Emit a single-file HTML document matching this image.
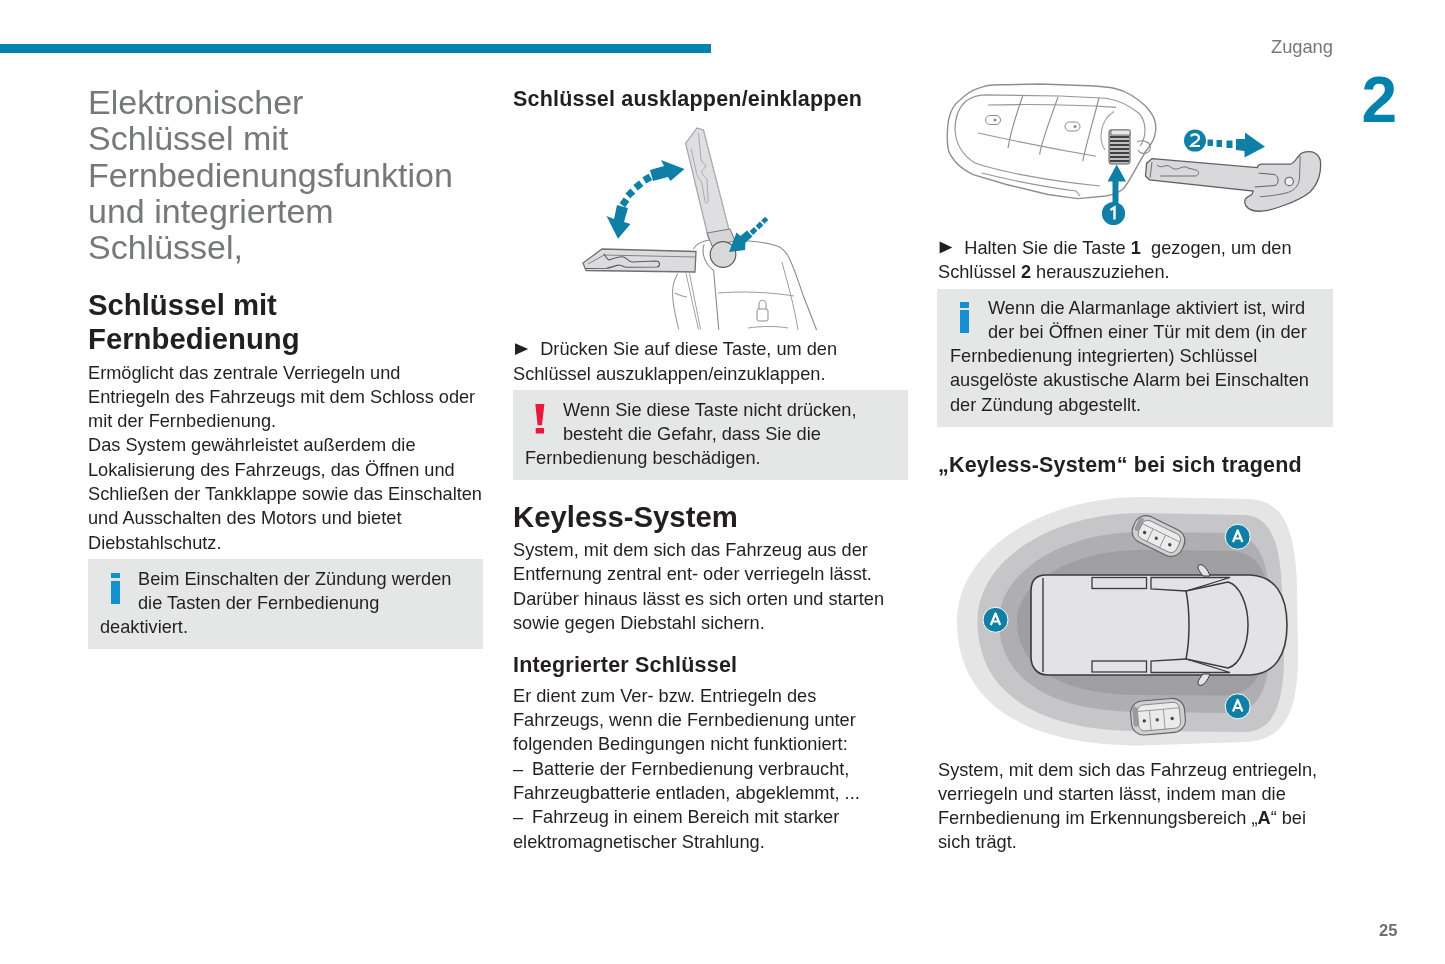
<!DOCTYPE html>
<html><head><meta charset="utf-8">
<style>
html,body{margin:0;padding:0;background:#fff;}
body{width:1445px;height:964px;position:relative;overflow:hidden;font-family:"Liberation Sans",sans-serif;color:#231f20;}
.a{position:absolute;white-space:nowrap;}
.bar{position:absolute;left:0;top:44px;width:711px;height:9px;background:#0282ad;}
.hdr{position:absolute;left:1271px;top:36px;font-size:18.4px;letter-spacing:-0.1px;color:#76777a;}
.chap{position:absolute;left:1361.6px;top:67.7px;font-size:64px;line-height:64px;font-weight:bold;color:#0282ad;}
.pg{position:absolute;left:1379px;top:921px;font-size:16.5px;font-weight:bold;color:#6d6e70;}
.title{position:absolute;left:88px;top:83.7px;font-size:34px;line-height:36.4px;color:#77787b;}
.h2{font-size:29.3px;font-weight:bold;line-height:34px;}
.h3{font-size:21.5px;letter-spacing:0.2px;font-weight:bold;line-height:24px;}
.body{font-size:18.2px;line-height:24.3px;}
.box{position:absolute;background:#e5e7e6;}
.info{position:absolute;background:#168ed2;width:9px;}
</style></head><body><div id="pg" style="position:absolute;left:0;top:0;width:1445px;height:964px;will-change:transform;">
<div class="bar"></div>
<div class="hdr">Zugang</div>
<div class="chap">2</div>
<div class="pg">25</div>

<div class="title a">Elektronischer<br>Schlüssel mit<br>Fernbedienungsfunktion<br>und integriertem<br>Schlüssel,</div>

<div class="a h2" style="left:88px;top:287.7px;">Schlüssel mit<br>Fernbedienung</div>
<div class="a body" style="left:88px;top:360.6px;">Ermöglicht das zentrale Verriegeln und<br>Entriegeln des Fahrzeugs mit dem Schloss oder<br>mit der Fernbedienung.<br>Das System gewährleistet außerdem die<br>Lokalisierung des Fahrzeugs, das Öffnen und<br>Schließen der Tankklappe sowie das Einschalten<br>und Ausschalten des Motors und bietet<br>Diebstahlschutz.</div>
<div class="box" style="left:88px;top:559.2px;width:395px;height:90.2px;"></div>
<div class="info" style="left:111px;top:573px;height:5px;"></div>
<div class="info" style="left:111px;top:581px;height:22.7px;"></div>
<div class="a body" style="left:138px;top:566.7px;">Beim Einschalten der Zündung werden<br>die Tasten der Fernbedienung</div>
<div class="a body" style="left:100px;top:615.4px;">deaktiviert.</div>

<!-- column 2 -->
<div class="a h3" style="left:513px;top:86.8px;">Schlüssel ausklappen/einklappen</div>
<div class="a body" style="left:540.2px;top:337.3px;">Drücken Sie auf diese Taste, um den</div><div class="a body" style="left:513px;top:361.6px;">Schlüssel auszuklappen/einzuklappen.</div>
<div class="box" style="left:513px;top:390px;width:395px;height:90px;"></div>

<div class="a body" style="left:563px;top:397.6px;">Wenn Sie diese Taste nicht drücken,<br>besteht die Gefahr, dass Sie die</div>
<div class="a body" style="left:525px;top:445.7px;">Fernbedienung beschädigen.</div>
<div class="a h2" style="left:513px;top:500.2px;">Keyless-System</div>
<div class="a body" style="left:513px;top:538.2px;">System, mit dem sich das Fahrzeug aus der<br>Entfernung zentral ent- oder verriegeln lässt.<br>Darüber hinaus lässt es sich orten und starten<br>sowie gegen Diebstahl sichern.</div>
<div class="a h3" style="left:513px;top:652.9px;">Integrierter Schlüssel</div>
<div class="a body" style="left:513px;top:683.9px;">Er dient zum Ver- bzw. Entriegeln des<br>Fahrzeugs, wenn die Fernbedienung unter<br>folgenden Bedingungen nicht funktioniert:<br>–<span style="display:inline-block;width:8.8px"></span>Batterie der Fernbedienung verbraucht,<br>Fahrzeugbatterie entladen, abgeklemmt, ...<br>–<span style="display:inline-block;width:8.8px"></span>Fahrzeug in einem Bereich mit starker<br>elektromagnetischer Strahlung.</div>

<!-- column 3 -->
<div class="a body" style="left:964.3px;top:235.7px;">Halten Sie die Taste <b>1</b>&nbsp; gezogen, um den</div><div class="a body" style="left:938px;top:260.0px;">Schlüssel <b>2</b> herauszuziehen.</div>
<div class="box" style="left:937px;top:289px;width:396px;height:138px;"></div>
<div class="info" style="left:960px;top:302px;height:6px;"></div>
<div class="info" style="left:960px;top:310px;height:23px;"></div>
<div class="a body" style="left:988px;top:295.9px;">Wenn die Alarmanlage aktiviert ist, wird<br>der bei Öffnen einer Tür mit dem (in der</div>
<div class="a body" style="left:950px;top:344.1px;">Fernbedienung integrierten) Schlüssel<br>ausgelöste akustische Alarm bei Einschalten<br>der Zündung abgestellt.</div>
<div class="a h3" style="left:938px;top:452.6px;">„Keyless-System“ bei sich tragend</div>
<div class="a body" style="left:938px;top:757.6px;">System, mit dem sich das Fahrzeug entriegeln,<br>verriegeln und starten lässt, indem man die<br>Fernbedienung im Erkennungsbereich „<b>A</b>“ bei<br>sich trägt.</div>


<svg class="ill" style="position:absolute;left:0;top:0;" width="1445" height="964" viewBox="0 0 1445 964">
<!-- bullets -->
<path d="M515,343.3 L528.2,349.1 L515,354.9 Z" fill="#231f20"/>
<path d="M939.6,241.6 L952.4,247.6 L939.6,253.6 Z" fill="#231f20"/>
<path d="M535.3,403.9 L544.4,403.9 L542,425.3 L537.6,425.3 Z M535.7,427.9 H544.1 V433.5 H535.7 Z" fill="#e8193c"/>
<!-- ===== flip key ===== -->
<g id="flip">
<!-- fob back body -->
<path d="M677.7,273.4 C674,280 672.5,287 672.5,293 C672.5,305 676,318 678.7,329.4 M674.6,293.1 C679,295 683,296.5 687,297.2" fill="none" stroke="#9a9b9d" stroke-width="1.1"/>
<path d="M686,273.4 L698.4,329.4 M689.5,273.4 L700.5,329.4" fill="none" stroke="#a0a1a3" stroke-width="1"/>
<path d="M693.3,249 C696,244 702,241 709.4,240 L748.8,241 C762,242 772,244 779,246.7 C783,249 786,252 788,256 C792,263 798,280 803,295 L816.6,330 M718.8,330 L713.6,270.5 C709,267 705,262 703.5,255 C702.5,250 703,247 704.2,244.6" fill="none" stroke="#8a8b8d" stroke-width="1.1"/>
<path d="M782,262 C788,285 794,305 798,330" fill="none" stroke="#9a9b9d" stroke-width="1"/>
<path d="M718,293 C740,291 770,292 794,296" fill="none" stroke="#9a9b9d" stroke-width="1"/>
<path d="M748,328 C760,326 778,326 788,328" fill="none" stroke="#9a9b9d" stroke-width="1"/>
<!-- lock icon -->
<rect x="757" y="309" width="11" height="12" rx="2" fill="none" stroke="#8a8b8d" stroke-width="1"/>
<path d="M759,309 V304 C759,299 766,299 766,304 V309" fill="none" stroke="#8a8b8d" stroke-width="1"/>
<!-- vertical blade -->
<path d="M685.6,143.3 L697,128 L703.5,130 L729.5,231.5 L708.5,238.5 Z" fill="#dfdfe1" stroke="#a3a4a6" stroke-width="1.2"/>
<path d="M698.5,133 L701,160 C702,163 706,164 705.6,166 C705,169 701,170 701.6,172.4 C702,176 707,177 707,180 L708.2,201.5 C708,204 705,204 705,201 L701.6,182 C699,178 696,175 696.3,172 L691,148.6" fill="none" stroke="#a9aaac" stroke-width="1"/>
<path d="M703.5,131 L729.5,231.5" fill="none" stroke="#b5b6b8" stroke-width="0.8"/>
<path d="M707,233 L730,229 L735,241 L712,246 Z" fill="#d6d6d8" stroke="#77787a" stroke-width="1"/>
<!-- horizontal blade -->
<path d="M583,263 L602,249 L696,251.5 L695,272 L586,270.5 Z" fill="#dcdcde" stroke="#6f7072" stroke-width="1.3"/>
<path d="M588,264 L604,255 L696,257" fill="none" stroke="#7a7b7d" stroke-width="0.9"/>
<path d="M604,253.7 C606,257 607,260 609.2,259.9 C614,259 618,256 622.7,256.8 C627,257.5 629,262 632,262 L655.9,261 C660,261 661,266 657,267 L626.9,267.2 C623,267 621,264.5 618.6,265.1 C614,266 610,268 606.1,268.2 L586,268.5" fill="none" stroke="#5a5b5d" stroke-width="1.1"/>
<!-- pivot -->
<circle cx="723" cy="254.5" r="12.8" fill="#d8d8da" stroke="#5b5c5e" stroke-width="1.2"/>
<!-- arrows -->
<g fill="#0f7fa5">
<path d="M661,160 L684.5,169 L670.5,181 L668,177 L653,181 L650,170 L664,166 Z"/>
<path d="M606.5,216 L618,238.7 L630.5,224 L624,222 L628,208 L617,205 L614,219 Z"/>
<rect x="643.7" y="175" width="7.2" height="7.2" transform="rotate(-30 647.3 178.6)"/>
<rect x="634.8" y="181.9" width="7.2" height="7.2" transform="rotate(-38 638.4 185.5)"/>
<rect x="626.9" y="189.8" width="7" height="7" transform="rotate(-45 630.5 193.4)"/>
<rect x="621" y="198.7" width="7" height="7" transform="rotate(-55 624.6 202.3)"/>
<path d="M729,252 L736.5,232.5 L740.5,236 L747,230.5 L752.5,236.5 L745.5,242.5 L745,250 Z"/>
<rect x="751" y="228" width="5" height="6" transform="rotate(45 753.5 231)"/>
<rect x="757" y="222.5" width="5" height="6" transform="rotate(45 759.5 225.5)"/>
<rect x="762.5" y="217.5" width="4.5" height="5.5" transform="rotate(45 764.8 220.3)"/>
</g>
</g>
<!-- ===== smart key ===== -->
<g id="smart">
<path d="M947.5,130 C948,116 952,106 960,100 C966,94 972,90 978,88.3 C985,86 990,85 993,85 L1040,84 L1089,85.8 C1100,86.5 1108,87 1114,88.3 C1122,90 1126,92 1131,95 C1138,99 1142,103 1146,106.5 C1150,111 1153,116 1154,118 C1156,124 1156,128 1155.7,130 C1155,136 1154,139 1152.4,141.4 C1150,146 1148,149 1145.7,151.3 L1132.5,174.6 C1129,181 1126,186 1122.5,189.5 C1118,193 1112,195 1106,196 L1077.7,198.6 L1047.8,194.5 L1006.4,184.5 L973.2,174.6 C966,171 960,167 956.6,163 C952,158 949,153 948.3,149.7 C947,142 947,136 947.5,130 Z" fill="#fff" stroke="#8e8f91" stroke-width="1.4"/>
<path d="M955,130 C955,118 958,108 966,101 C972,97 978,95 985,94.9 L1060,96 L1106,98.2 C1118,100 1130,106 1139,113.2 C1143,118 1145,124 1145,130 C1145,136 1143,142 1140,146" fill="none" stroke="#959698" stroke-width="1.15"/>
<path d="M955,130 C956,145 962,155 975,163 C995,170 1040,180 1100,186" fill="none" stroke="#959698" stroke-width="1.15"/>
<path d="M988,105 C1030,104 1080,105 1116,107.4 M978,133 C1010,140 1060,150 1096,156.3" fill="none" stroke="#959698" stroke-width="1.15"/>
<path d="M1023,95 C1016,115 1010,135 1008,148 M1058,97 C1050,120 1042,140 1039.6,154.6 M1099,98 C1092,125 1086,145 1082.7,161.3" fill="none" stroke="#8e8f91" stroke-width="1.15"/>
<path d="M981.5,173 C1010,180 1045,187 1076,191 L1080,196" fill="none" stroke="#959698" stroke-width="1.15"/>
<path d="M1114,111.5 C1100,120 1098,140 1105,150" fill="none" stroke="#a0a1a3" stroke-width="1.1"/>
<rect x="985.5" y="115.5" width="15" height="9" rx="4.5" fill="none" stroke="#8a8b8d" stroke-width="1"/>
<circle cx="995" cy="120" r="1.5" fill="#8a8b8d"/>
<rect x="1065" y="122" width="15" height="9" rx="4.5" fill="none" stroke="#8a8b8d" stroke-width="1"/>
<circle cx="1075" cy="126.5" r="1.5" fill="#8a8b8d"/>
<path d="M1137,142 C1143,139 1152,142 1150,150 C1147,155 1140,154 1138,150" fill="none" stroke="#8e8f91" stroke-width="1.15"/>
<rect x="1109" y="130" width="21" height="34" rx="2" fill="#bfc0c2" stroke="#5b5c5e" stroke-width="1"/>
<path d="M1110,137 H1129 M1110,141 H1129 M1110,145 H1129 M1110,149 H1129 M1110,153 H1129 M1110,157 H1129 M1110,161 H1129" stroke="#3e3f41" stroke-width="1.8"/>
<rect x="1111" y="130" width="19" height="5" fill="#e8e8ea" stroke="#5b5c5e" stroke-width="0.8"/>
<g fill="#0f7fa5">
<path d="M1116.7,164.5 L1107.5,181.5 L1112.5,181.5 L1112.5,205 L1118.5,205 L1118.5,181.5 L1126,181.5 Z"/>
<circle cx="1113.5" cy="213.5" r="11.6"/>
<circle cx="1195" cy="140.6" r="11"/>
<rect x="1207.5" y="139.5" width="5.5" height="6.5"/>
<rect x="1216.5" y="140" width="5.5" height="7"/>
<rect x="1226.5" y="140.5" width="6" height="7.5"/>
<path d="M1236,139 L1245,139 L1245,132.5 L1265,146.8 L1244.5,157.5 L1244.5,151 L1236,150 Z"/>
</g>
<path d="M1110.5,210 L1114.5,207.5 L1114.5,219.5" fill="none" stroke="#fff" stroke-width="2.4"/>
<path d="M1191,136.5 C1192,133.5 1199,133.5 1199,138 C1199,141 1192,144 1191,146 L1200,146" fill="none" stroke="#fff" stroke-width="2.2"/>
<!-- key blade -->
<path d="M1152,158.6 L1257.3,167.6 C1258,165 1259,164.3 1262,164.2 L1290,164.2 C1293,164 1295,161 1297,158 L1301,153.5 C1304,151.5 1308,151.3 1312,151.8 C1316,152.8 1319,156 1320.3,160 C1321,166 1320.5,172 1319,177 C1317,183 1314,188 1310,192 C1304,197 1296,201 1285,205 C1277,208 1268,211 1261.5,211.2 C1255,211.5 1249,210 1246,206 C1244,203 1244.5,199 1247,197.4 L1251.8,194.6 L1253.2,191.1 L1149.4,180 L1145.5,175.9 L1146.6,163.4 Z" fill="#d9d9db" stroke="#5f6062" stroke-width="1.3"/>
<path d="M1258.7,173.1 L1274,174.5 C1279,175 1280,185 1274,185.6 L1254.6,187" fill="none" stroke="#5f6062" stroke-width="1"/>
<path d="M1300.2,156.5 L1299.5,178 C1299,186 1294,191 1286,193 C1278,195 1270,196 1260.1,196.7" fill="none" stroke="#6f7072" stroke-width="1"/>
<circle cx="1289.2" cy="181.4" r="4.2" fill="#efeff0" stroke="#5f6062" stroke-width="1.1"/>
<path d="M1152,162 L1150,178 M1157,165 C1162,170 1166,162 1172,168 C1178,172 1182,164 1188,168 L1196,170 C1200,171 1199,176 1195,176 L1160,176" fill="none" stroke="#6f7072" stroke-width="1"/>
</g>
<!-- ===== car zones ===== -->
<g id="car">
<path d="M957,621 C957,552 1040,497 1141,497 L1250,499 C1284,501 1295,530 1297,585 L1298,660 C1297,715 1283,740 1245,742 L1141,745.5 C1021,745.5 957,701 957,621 Z" fill="#e5e5e6"/>
<path d="M977.5,621 C977.5,561 1050,513 1141,513 L1245,515 C1270,517 1280,540 1282,590 L1284,660 C1283,708 1272,731 1245,732 L1141,731 C1036,731 977.5,692 977.5,621 Z" fill="#c6c6c8"/>
<path d="M999,621 C999,573 1062,532 1141,532 L1230,533 C1258,535 1268,560 1270,600 L1270,650 C1268,690 1258,712 1230,713 L1141,712 C1050,712 999,679 999,621 Z" fill="#afafb1"/>
<path d="M1017,621 C1017,582 1073,550 1141,550 L1234,551 C1250,553 1260,562 1265,578 L1260,672 C1252,690 1240,695 1224,695.5 L1141,695 C1062,695 1017,668 1017,621 Z" fill="#9f9fa1"/>
<path d="M1046,575 L1250,575 C1275,576 1287,595 1287,625 C1287,655 1275,674 1250,675 L1048,675 C1036,675 1031,666 1031,657 L1031,591 C1031,581 1036,575 1046,575 Z" fill="#e3e3e5" stroke="#3b3b3d" stroke-width="1.6"/>
<line x1="1043" y1="578" x2="1043" y2="672" stroke="#3b3b3d" stroke-width="1.4"/>
<rect x="1092" y="577.5" width="54.5" height="11" fill="#e3e3e5" stroke="#3b3b3d" stroke-width="1.3"/>
<rect x="1092" y="661" width="54.5" height="11" fill="#e3e3e5" stroke="#3b3b3d" stroke-width="1.3"/>
<path d="M1151,577.5 L1230,577.5 L1186,591 L1151,589 Z" fill="#e3e3e5" stroke="#3b3b3d" stroke-width="1.3"/>
<path d="M1151,672.5 L1230,672.5 L1186,659 L1151,661 Z" fill="#e3e3e5" stroke="#3b3b3d" stroke-width="1.3"/>
<path d="M1186,591 L1228,582 C1240,585 1248,605 1248,625 C1248,645 1240,665 1228,668 L1186,659 C1190,640 1190,610 1186,591 Z" fill="#e3e3e5" stroke="#3b3b3d" stroke-width="1.5"/>
<path d="M1199,565 C1203,563 1208,570 1210,576 L1203,576 C1200,572 1196,567 1199,565 Z" fill="#e3e3e5" stroke="#3b3b3d" stroke-width="1"/>
<path d="M1199,685 C1203,687 1208,680 1210,674 L1203,674 C1200,678 1196,683 1199,685 Z" fill="#e3e3e5" stroke="#3b3b3d" stroke-width="1"/>
<g transform="translate(1158.5,536) rotate(26)">
<rect x="-27" y="-14.0" width="54" height="28" rx="12" fill="#d0d0d2" stroke="#5f6062" stroke-width="1.1"/>
<rect x="-20" y="-10.0" width="42" height="20" rx="6" fill="#ebebec" stroke="#77787a" stroke-width="0.8"/>
<path d="M-20,-4.0 H22 M-8,-4.0 V10.0 M6,-4.0 V10.0" stroke="#8a8b8d" stroke-width="0.8" fill="none"/>
<rect x="-25" y="-9.0" width="5" height="14" rx="2" fill="#9a9b9d"/>
<circle cx="-14" cy="3.0" r="1.7" fill="#444"/><circle cx="-1" cy="3.0" r="1.7" fill="#555"/><circle cx="14" cy="3.0" r="1.7" fill="#444"/>
</g>
<g transform="translate(1158,716.7) rotate(-5)">
<rect x="-27" y="-17.0" width="54" height="34" rx="12" fill="#d0d0d2" stroke="#5f6062" stroke-width="1.1"/>
<rect x="-20" y="-13.0" width="42" height="26" rx="6" fill="#ebebec" stroke="#77787a" stroke-width="0.8"/>
<path d="M-20,-7.0 H22 M-8,-7.0 V13.0 M6,-7.0 V13.0" stroke="#8a8b8d" stroke-width="0.8" fill="none"/>
<rect x="-25" y="-12.0" width="5" height="20" rx="2" fill="#9a9b9d"/>
<circle cx="-14" cy="3.0" r="1.7" fill="#444"/><circle cx="-1" cy="3.0" r="1.7" fill="#555"/><circle cx="14" cy="3.0" r="1.7" fill="#444"/>
</g>
<g fill="#0f7fa5" stroke="#fff" stroke-width="1">
<circle cx="1237.7" cy="536.8" r="12.5"/><circle cx="995.5" cy="619.8" r="12.5"/><circle cx="1237.7" cy="706.3" r="12.5"/>
</g>
<g fill="none" stroke="#fff" stroke-width="2.2" stroke-linejoin="round">
<path d="M1233,542 L1237.7,530.5 L1242.4,542 M1234.6,538.5 H1240.8"/>
<path d="M990.8,625 L995.5,613.5 L1000.2,625 M992.4,621.5 H998.6"/>
<path d="M1233,711.5 L1237.7,700 L1242.4,711.5 M1234.6,708 H1240.8"/>
</g>
</g>
</svg>
</div></body></html>
